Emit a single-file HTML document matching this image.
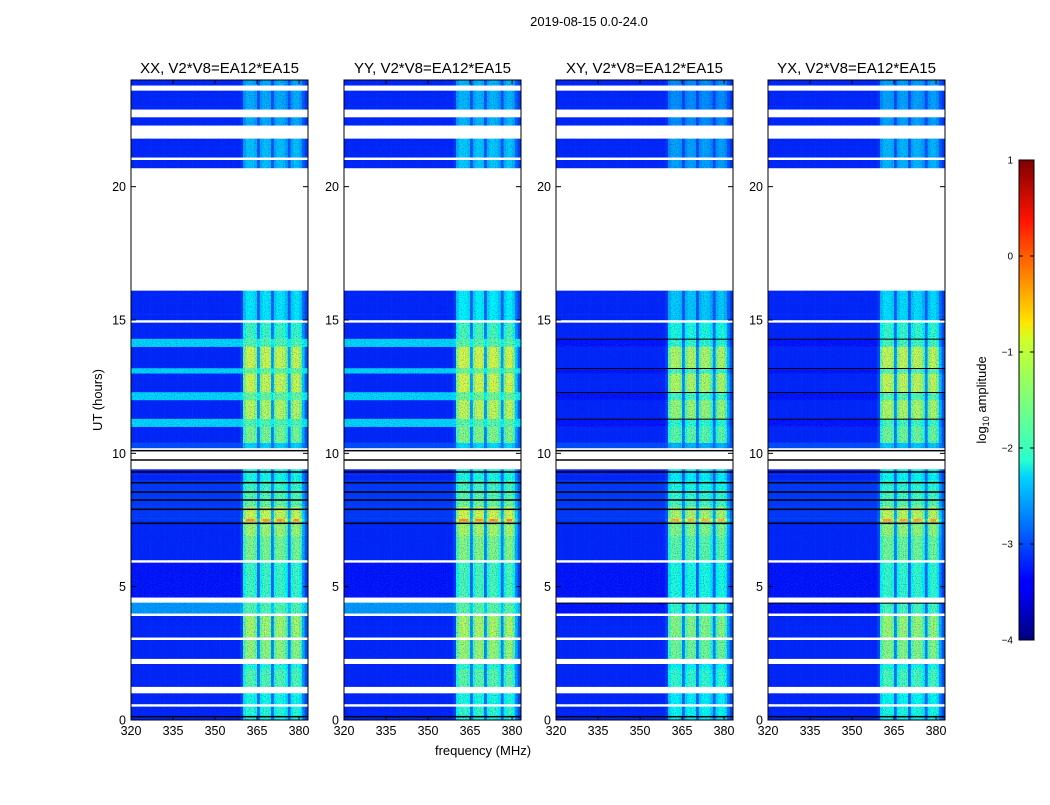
<!DOCTYPE html>
<html><head><meta charset="utf-8">
<style>
html,body{margin:0;padding:0;background:#fff;}
svg text{font-family:"Liberation Sans",sans-serif;fill:#000;}
</style></head>
<body>
<svg id="fig" width="1050" height="800" viewBox="0 0 1050 800" xmlns="http://www.w3.org/2000/svg">
<defs>
<filter id="speck" x="0" y="0" width="1" height="1">
<feTurbulence type="fractalNoise" baseFrequency="0.9" numOctaves="1" seed="3" result="n"/>
<feColorMatrix in="n" type="matrix" values="0 0 0 0 0  0 0 0 0 0.05  0 0 0 0 0.5  0 0 -2.2 0 1.2" result="nc"/>
<feComposite in="nc" in2="SourceAlpha" operator="in" result="nm"/>
<feMerge><feMergeNode in="SourceGraphic"/><feMergeNode in="nm"/></feMerge>
</filter>
<linearGradient id="jet" x1="0" y1="1" x2="0" y2="0">
<stop offset="0" stop-color="#00007f"/><stop offset="0.11" stop-color="#0000ff"/>
<stop offset="0.125" stop-color="#0000ff"/><stop offset="0.34" stop-color="#00d4ff"/>
<stop offset="0.375" stop-color="#29ffce"/><stop offset="0.5" stop-color="#7dff7a"/>
<stop offset="0.625" stop-color="#ceff29"/><stop offset="0.66" stop-color="#ffe600"/>
<stop offset="0.875" stop-color="#ff1300"/><stop offset="1" stop-color="#7f0000"/>
</linearGradient>
</defs>
<text x="589" y="26" font-size="13" text-anchor="middle">2019-08-15 0.0-24.0</text>
<text x="483" y="755" font-size="13" text-anchor="middle">frequency (MHz)</text>
<text transform="translate(102,400) rotate(-90)" font-size="13" text-anchor="middle">UT (hours)</text>
<g id="panels"></g>
<g>
<rect x="1019" y="160" width="15" height="480" fill="url(#jet)" stroke="#000" stroke-width="1"/>
<g id="cbticks"></g>
<text transform="translate(986,400) rotate(-90)" font-size="13" text-anchor="middle">log<tspan font-size="9" dy="3">10</tspan><tspan dy="-3"> amplitude</tspan></text>
</g>
</svg>
<script>
// ---- data ----
const panelTitles = ["XX, V2*V8=EA12*EA15","YY, V2*V8=EA12*EA15","XY, V2*V8=EA12*EA15","YX, V2*V8=EA12*EA15"];
const xTicks = [320,335,350,365,380];
const yTicks = [0,5,10,15,20];
const cbTicks = [1,0,-1,-2,-3,-4];
const cbLabels = ["1","0","\u22121","\u22122","\u22123","\u22124"];
// frequency channel weights (1 MHz bins from 320 to 382)
const freqStart = 320;
const chanWeight = [0,0,0,0,0,0,0,0,0,0, 0,0,0,0,0,0,0,0,0,0, 0,0,0,0,0,0,0,0,0,0, 0,0,0,0,0,0,0,0,0,0.1,
  0.8,1,1,1,0.9,0.3,0.85,1,1,0.95, 0.3,0.85,1,1,0.95,0.8,0.3,0.85,1,1, 0.85,0.4,0.15];
// time rows: start hour, end hour, kind (d=data, w=flagged white, k=black flag line, b=pol band)
const rowStart = [0,0.1,0.15,0.5,0.6,1.0,1.25,1.9,2.1,2.3,3.0,3.1,3.9,4.0,4.4,4.6,5.9,6.0,6.9,7.3,7.45,7.55,7.8,8.0,8.2,8.3,8.5,8.6,8.8,9.0,9.2,9.4,9.7,9.8,10.0,10.2,10.4,11.0,11.3,12.0,12.3,13.0,13.2,14.0,14.3,14.9,15.0,15.2,16.1,20.7,21.0,21.1,21.8,22.3,22.6,22.9,23.0,23.6,23.8];
const rowEnd   = [0.1,0.15,0.5,0.6,1.0,1.25,1.9,2.1,2.3,3.0,3.1,3.9,4.0,4.4,4.6,5.9,6.0,6.9,7.3,7.45,7.55,7.8,8.0,8.2,8.3,8.5,8.6,8.8,9.0,9.2,9.4,9.7,9.8,10.0,10.2,10.4,11.0,11.3,12.0,12.3,13.0,13.2,14.0,14.3,14.9,15.0,15.2,16.1,20.7,21.0,21.1,21.8,22.3,22.6,22.9,23.0,23.6,23.8,24.0];
const rowKind  = ["d","k","d","w","d","w","d","d","w","d","w","d","w","b","w","d","w","d","d","k","d","d","k","d","k","d","k","d","k","d","k","w","k","w","k","d","d","b","d","b","d","b","d","b","d","w","d","d","w","d","w","d","w","d","w","d","d","w","d"];
const rowBase  = [-3.2,-3.2,-3.2,0,-3.2,0,-3.2,-3.2,0,-3.2,0,-3.2,0,-2.6,0,-3.3,0,-3.2,-3.2,-3.2,-3.1,-3.1,-3.1,-3.1,-3.1,-3.1,-3.1,-3.1,-3.1,-3.2,-3.2,0,0,0,0,-3.0,-3.2,-2.3,-3.2,-2.3,-3.2,-2.3,-3.2,-2.3,-3.2,0,-3.2,-3.2,0,-3.2,0,-3.2,0,-3.2,0,-3.2,-3.2,0,-3.2];
const rowRfi   = [-2.0,-2.0,-1.9,0,-2.0,0,-1.7,-1.9,0,-1.4,0,-1.3,0,-1.7,0,-1.8,0,-1.5,-1.3,-1.3,-0.4,-1.1,-1.1,-1.6,-1.6,-1.7,-1.7,-1.8,-1.8,-2.0,-2.0,0,0,0,0,-2.3,-1.5,-1.7,-1.2,-1.6,-1.1,-1.6,-1.1,-1.7,-1.8,0,-2.2,-2.2,0,-2.4,0,-2.4,0,-2.5,0,-2.5,-2.5,0,-2.5];
const panelRfiShift = [0,0.05,-0.15,-0.05];
const panelHasBands = [true,true,false,false];

// ---- layout ----
const PX = [131,344,556,768], PW = 177, PY = 80, PH = 640;
const FMIN = 320, FMAX = 383.2, TMAX = 24;
const NS = "http://www.w3.org/2000/svg";
function xs(p,f){return PX[p] + (f-FMIN)/(FMAX-FMIN)*PW;}
function ys(t){return PY+PH - t/TMAX*PH;}
function jet(v){
  let t=Math.max(0,Math.min(1,(v+4)/5));
  const r=Math.max(0,Math.min(1,1.5-Math.abs(4*t-3)));
  const g=Math.max(0,Math.min(1,1.5-Math.abs(4*t-2)));
  const b=Math.max(0,Math.min(1,1.5-Math.abs(4*t-1)));
  return `rgb(${Math.round(r*255)},${Math.round(g*255)},${Math.round(b*255)})`;
}
function mk(tag,attrs,parent){const e=document.createElementNS(NS,tag);for(const k in attrs)e.setAttribute(k,attrs[k]);parent.appendChild(e);return e;}
const root=document.getElementById("panels");
for(let p=0;p<4;p++){
  const g=mk("g",{},root);
  
  
  const hm=mk("g",{filter:"url(#speck)"},g);
  
  
  const lines=mk("g",{},g);
  for(let r=0;r<rowStart.length;r++){
    const kind=rowKind[r];
    const y1=ys(rowEnd[r]), y0=ys(rowStart[r]);
    if(kind==="w") continue;
    if(kind==="k"){
      const l=mk("rect",{x:PX[p],y:(y0+y1)/2-0.75,width:PW,height:1.5,fill:"#000"},lines);
      
      
      if(rowBase[r]===0) continue;
    }
    let base=rowBase[r];
    if(kind==="b" && !panelHasBands[p]) base=-3.3;
    const rfi=rowRfi[r]+panelRfiShift[p];
    for(let c=0;c<chanWeight.length;c++){
      const f=freqStart+c;
      const w=chanWeight[c];
      const v=base+w*(Math.max(rfi,base)-base);
      const x0=xs(p,f), x1=Math.min(xs(p,f+1),PX[p]+PW);
      const cell=mk("rect",{x:x0,y:y1,width:x1-x0+0.3,height:y0-y1+0.2,fill:jet(v)},hm);
      
      
    }
    if(kind==="b" && !panelHasBands[p]){
      const l=mk("rect",{x:PX[p],y:y1,width:PW,height:1,fill:"#000"},lines);
      
      
    }
  }
  const fr=mk("rect",{x:PX[p],y:PY,width:PW,height:PH,fill:"none",stroke:"#000","stroke-width":1},g);
  
  
  const tt=mk("text",{x:PX[p]+PW/2,y:PY-7,"font-size":15,"text-anchor":"middle"},g);
  tt.textContent=panelTitles[p];
  
  
  for(const f of xTicks){
    const x=xs(p,f);
    mk("line",{x1:x,x2:x,y1:PY+PH,y2:PY+PH-4,stroke:"#000"},g);
    mk("line",{x1:x,x2:x,y1:PY,y2:PY+4,stroke:"#000"},g);
    const t=mk("text",{x:x,y:PY+PH+15,"font-size":12.5,"text-anchor":"middle"},g);
    t.textContent=f;
    
    
  }
  for(const h of yTicks){
    const y=ys(h);
    mk("line",{x1:PX[p],x2:PX[p]+5,y1:y,y2:y,stroke:"#000"},g);
    mk("line",{x1:PX[p]+PW,x2:PX[p]+PW-5,y1:y,y2:y,stroke:"#000"},g);
    const t=mk("text",{x:PX[p]-5,y:y+4.5,"font-size":12.5,"text-anchor":"end"},g);
    t.textContent=h;
    
    
  }
}
const cb=document.getElementById("cbticks");
for(let i=0;i<cbTicks.length;i++){
  const y=640-(cbTicks[i]+4)/5*480;
  mk("line",{x1:1019,x2:1023,y1:y,y2:y,stroke:"#000"},cb);
  mk("line",{x1:1034,x2:1030,y1:y,y2:y,stroke:"#000"},cb);
  const t=mk("text",{x:1013,y:y+3.5,"font-size":10,"text-anchor":"end"},cb);
  t.textContent=cbLabels[i];
  
  
}
</script>
</body></html>
